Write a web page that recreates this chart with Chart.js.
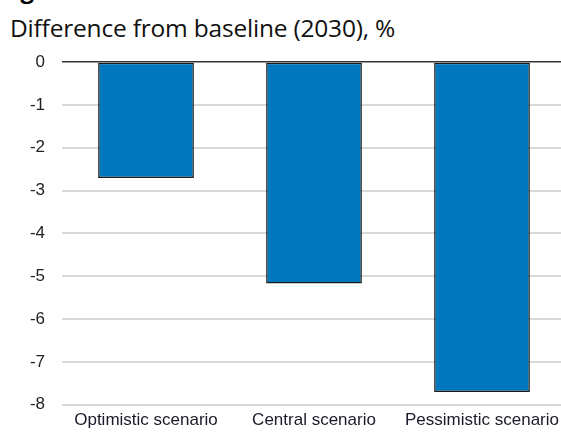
<!DOCTYPE html>
<html>
<head>
<meta charset="utf-8">
<script src="https://cdn.jsdelivr.net/npm/chart.js@4"></script>
<style>
  html, body { margin: 0; padding: 0; background: #fff; overflow: hidden; }
  body { width: 561px; height: 432px; position: relative; }
  #fig { position: absolute; left: 0; top: -23px; font: bold 24px/24px "Open Sans", sans-serif; color: #000; }
  #title { position: absolute; left: 10px; top: 13px; font: 24.5px/30px "Open Sans", sans-serif; color: #111; white-space: nowrap; letter-spacing: -0.2px; }
  #chart { position: absolute; left: 0; top: 0; }
</style>
</head>
<body>
<div id="fig">Figure</div>
<div id="title">Difference from baseline (2030), %</div>
<canvas id="chart" width="566" height="432"></canvas>
<script>
const scenarios = ['Optimistic scenario', 'Central scenario', 'Pessimistic scenario'];
const differences = [-2.71, -5.17, -7.70];
const yTicks = [0, -1, -2, -3, -4, -5, -6, -7, -8];

const ctx = document.getElementById('chart').getContext('2d');

const chart = new Chart(ctx, {
    type: 'bar',
    data: {
        labels: scenarios,
        datasets: [{
            data: differences,
            backgroundColor: '#0077be',
            borderColor: '#1c1c1c',
            borderWidth: 1.5,
            borderSkipped: false,
            categoryPercentage: 1,
            barPercentage: 0.57
        }]
    },
    options: {
        responsive: false,
        animation: false,
        layout: { padding: { top: 62, right: 0, left: 0, bottom: 0 } },
        plugins: {
            legend: { display: false },
            tooltip: { enabled: false }
        },
        scales: {
            x: {
                grid: { display: false, drawTicks: false },
                border: { display: false },
                ticks: {
                    color: '#1a1a2a',
                    font: { family: 'Liberation Sans', size: 17 },
                    padding: 5,
                    maxRotation: 0,
                    autoSkip: false
                },
                afterFit: axis => { axis.height = 26; }
            },
            y: {
                min: Math.min(...yTicks),
                max: Math.max(...yTicks),
                afterBuildTicks: axis => { axis.ticks = yTicks.map(v => ({ value: v })); },
                grid: {
                    color: c => c.tick.value === 0 ? '#333333' : '#d9d9d9',
                    lineWidth: c => c.tick.value === 0 ? 1.5 : 2,
                    drawTicks: false
                },
                border: { display: false },
                ticks: {
                    color: '#222',
                    font: { family: 'Liberation Sans', size: 17 },
                    padding: 17
                },
                afterFit: axis => { axis.width = 62; }
            }
        }
    }
});
</script>
</body>
</html>
